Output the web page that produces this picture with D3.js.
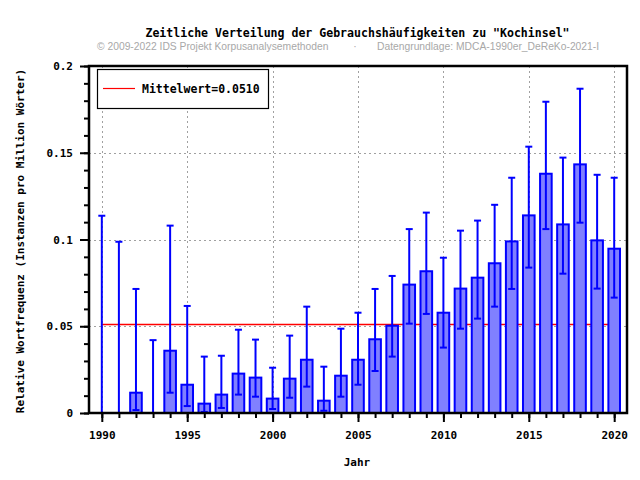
<!DOCTYPE html>
<html>
<head>
<meta charset="utf-8">
<script src="https://cdn.jsdelivr.net/npm/d3@7/dist/d3.min.js"></script>
<style>
  html, body { margin: 0; padding: 0; background: #fff; }
  svg { display: block; }
  .mono { font-family: "DejaVu Sans Mono", monospace; font-weight: bold; }
</style>
</head>
<body>
<svg id="chart" width="640" height="480"></svg>
<script>
// ---- data ----
const years = [1990, 1991, 1992, 1993, 1994, 1995, 1996, 1997, 1998, 1999,
               2000, 2001, 2002, 2003, 2004, 2005, 2006, 2007, 2008, 2009,
               2010, 2011, 2012, 2013, 2014, 2015, 2016, 2017, 2018, 2019, 2020];
const values = [0, 0, 0.0117, 0, 0.0359, 0.0163, 0.0054, 0.0106, 0.0227, 0.0204,
                0.0083, 0.0198, 0.0307, 0.0071, 0.0215, 0.0307, 0.0425, 0.0503, 0.0740, 0.0817,
                0.0578, 0.0717, 0.0780, 0.0863, 0.0989, 0.1139, 0.1379, 0.1087, 0.1433, 0.0995, 0.0947];
const upper = [0.1137, 0.0987, 0.0715, 0.0420, 0.1080, 0.0617, 0.0325, 0.0330, 0.0480, 0.0423,
               0.0261, 0.0446, 0.0613, 0.0267, 0.0486, 0.0578, 0.0715, 0.0790, 0.1060, 0.1155,
               0.0895, 0.1051, 0.1109, 0.1200, 0.1356, 0.1535, 0.1794, 0.1472, 0.1869, 0.1373, 0.1356];
const lower = [0, 0, 0.0017, 0, 0.0117, 0.0040, 0.0006, 0.0029, 0.0106, 0.0094,
               0.0023, 0.0088, 0.0152, 0.0013, 0.0094, 0.0163, 0.0242, 0.0325, 0.0515, 0.0571,
               0.0377, 0.0486, 0.0544, 0.0613, 0.0715, 0.0838, 0.1060, 0.0803, 0.1097, 0.0717, 0.0665];
const meanValue = 0.0510;
const xMajorTicks = [1990, 1995, 2000, 2005, 2010, 2015, 2020];
const yMajorTicks = [0, 0.05, 0.1, 0.15, 0.2];
const yTickLabels = ["0", "0.05", "0.1", "0.15", "0.2"];
const titleText = 'Zeitliche Verteilung der Gebrauchshäufigkeiten zu "Kochinsel"';
const subLeft = "© 2009-2022 IDS Projekt Korpusanalysemethoden";
const subRight = "Datengrundlage: MDCA-1990er_DeReKo-2021-I";
const xTitle = "Jahr";
const yTitle = "Relative Wortfrequenz (Instanzen pro Million Wörter)";
const legendLabel = "Mittelwert=0.0510";

const data = years.map((yr, i) => ({year: yr, value: values[i], hi: upper[i], lo: lower[i]}));

// ---- layout ----
const pL = 89, pR = 627, pT = 66, pB = 413;
const svg = d3.select("#chart");

const x = d3.scaleLinear().domain([1989.25, 2020.75]).range([pL, pR]);
const y = d3.scaleLinear().domain([0, 0.2]).range([pB, pT]);

const blue = "#0000ff", fill = "#8080ff";

// titles
svg.append("text").attr("class", "mono")
  .attr("x", 357.5).attr("y", 37).attr("text-anchor", "middle")
  .attr("font-size", "11.55px").text(titleText);
svg.append("text")
  .attr("x", 97).attr("y", 50)
  .attr("font-family", "Liberation Sans, Arial, sans-serif").attr("font-size", "10.3px")
  .attr("fill", "#a8a8a8").text(subLeft);
svg.append("text")
  .attr("x", 355).attr("y", 50).attr("text-anchor", "middle")
  .attr("font-family", "Liberation Sans, Arial, sans-serif").attr("font-size", "10.3px")
  .attr("fill", "#a8a8a8").text("·");
svg.append("text")
  .attr("x", 377).attr("y", 50)
  .attr("font-family", "Liberation Sans, Arial, sans-serif").attr("font-size", "10.3px")
  .attr("fill", "#a8a8a8").text(subRight);

// grid
const grid = svg.append("g").attr("stroke", "#a0a0a0").attr("stroke-width", 1)
  .attr("stroke-dasharray", "2,3");
grid.selectAll("line.v").data(xMajorTicks).join("line").attr("class", "v")
  .attr("x1", d => Math.round(x(d)) + 0.5).attr("x2", d => Math.round(x(d)) + 0.5)
  .attr("y1", pT).attr("y2", pB);
grid.selectAll("line.h").data(yMajorTicks.slice(1, -1)).join("line").attr("class", "h")
  .attr("y1", d => Math.round(y(d)) + 0.5).attr("y2", d => Math.round(y(d)) + 0.5)
  .attr("x1", pL).attr("x2", pR);

// mean line
svg.append("line")
  .attr("x1", x(years[0])).attr("x2", x(years[years.length - 1]))
  .attr("y1", y(meanValue)).attr("y2", y(meanValue))
  .attr("stroke", "#ff0000").attr("stroke-width", 1.3);

// bars
const bw = 0.68 * (x(1) - x(0));
svg.append("g").selectAll("rect").data(data.filter(d => d.value > 0)).join("rect")
  .attr("x", d => x(d.year) - bw / 2)
  .attr("width", bw)
  .attr("y", d => y(d.value))
  .attr("height", d => y(0) - y(d.value))
  .attr("fill", fill).attr("stroke", blue).attr("stroke-width", 2);

// error bars
const eg = svg.append("g").attr("stroke", blue).attr("stroke-width", 2);
const cap = 3.5;
eg.selectAll("line.e").data(data).join("line").attr("class", "e")
  .attr("x1", d => x(d.year)).attr("x2", d => x(d.year))
  .attr("y1", d => y(d.hi)).attr("y2", d => y(d.lo));
eg.selectAll("line.ct").data(data).join("line").attr("class", "ct")
  .attr("x1", d => x(d.year) - cap).attr("x2", d => x(d.year) + cap)
  .attr("y1", d => y(d.hi)).attr("y2", d => y(d.hi));
eg.selectAll("line.cb").data(data).join("line").attr("class", "cb")
  .attr("x1", d => x(d.year) - cap).attr("x2", d => x(d.year) + cap)
  .attr("y1", d => y(d.lo)).attr("y2", d => y(d.lo));

// axes
const xMinor = d3.axisBottom(x).tickValues(years).tickSize(5).tickFormat("");
const xMajor = d3.axisBottom(x).tickValues(xMajorTicks).tickSize(9).tickFormat(d3.format("d"));
const yMinorVals = d3.range(0, 21).map(i => i / 100);
const yMinor = d3.axisLeft(y).tickValues(yMinorVals).tickSize(5).tickFormat("");
const yMajor = d3.axisLeft(y).tickValues(yMajorTicks).tickSize(9)
  .tickFormat((d, i) => yTickLabels[i]);

function styleAxis(g) {
  g.select(".domain").remove();
  g.selectAll(".tick line").attr("stroke", "#000").attr("stroke-width", 2);
  g.selectAll(".tick text").attr("font-size", "11px")
    .attr("fill", "#000").style("font-family", "'DejaVu Sans Mono', monospace")
    .style("font-weight", "bold");
}
svg.append("g").attr("transform", `translate(0,${pB})`).call(xMinor).call(styleAxis);
svg.append("g").attr("transform", `translate(0,${pB})`).call(xMajor).call(styleAxis)
  .selectAll(".tick text").attr("dy", "1.3em");
svg.append("g").attr("transform", `translate(${pL},0)`).call(yMinor).call(styleAxis);
svg.append("g").attr("transform", `translate(${pL},0)`).call(yMajor).call(styleAxis)
  .selectAll(".tick text").attr("x", -16);

// frame
svg.append("rect").attr("x", pL).attr("y", pT)
  .attr("width", pR - pL).attr("height", pB - pT)
  .attr("fill", "none").attr("stroke", "#000").attr("stroke-width", 2.5);

// axis titles
svg.append("text").attr("class", "mono").attr("x", 357).attr("y", 466)
  .attr("text-anchor", "middle").attr("font-size", "11px").text(xTitle);
svg.append("text").attr("class", "mono")
  .attr("transform", "translate(24,241) rotate(-90)")
  .attr("text-anchor", "middle").attr("font-size", "11px").text(yTitle);

// legend
svg.append("rect").attr("x", 97.5).attr("y", 69.5).attr("width", 171).attr("height", 39)
  .attr("fill", "#fff").attr("stroke", "#000").attr("stroke-width", 1.2);
svg.append("line").attr("x1", 103).attr("x2", 135).attr("y1", 88.5).attr("y2", 88.5)
  .attr("stroke", "#ff0000").attr("stroke-width", 1.2);
svg.append("text").attr("class", "mono").attr("x", 142).attr("y", 93)
  .attr("font-size", "11.5px").text(legendLabel);
</script>
</body>
</html>
